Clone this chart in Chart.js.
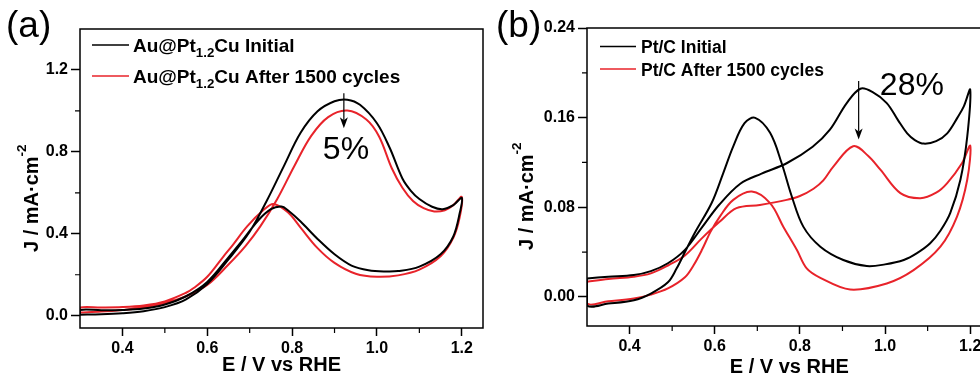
<!DOCTYPE html>
<html>
<head>
<meta charset="utf-8">
<script src="https://cdn.jsdelivr.net/npm/chart.js@4.4.1/dist/chart.umd.min.js"></script>
<style>
    html, body { margin: 0; padding: 0; background: #fff; overflow: hidden; }
    body { width: 980px; height: 377px; position: relative; }
    .panel { position: absolute; top: 0; height: 377px; }
    #panel-a { left: 0; width: 490px; }
    #panel-b { left: 490px; width: 510px; }
</style>
</head>
<body>
<div class="panel" id="panel-a"><canvas id="chart-a"></canvas></div>
<div class="panel" id="panel-b"><canvas id="chart-b"></canvas></div>
<script>
const FONT = "'Liberation Sans', Arial, sans-serif";

// --- Axes ---
const E_TICKS = [0.4, 0.6, 0.8, 1.0, 1.2];
const E_MINOR = [0.5, 0.7, 0.9, 1.1];
const J_TICKS_A = [0.0, 0.4, 0.8, 1.2];
const J_MINOR_A = [0.2, 0.6, 1.0];
const J_TICKS_B = [0.00, 0.08, 0.16, 0.24];
const J_MINOR_B = [0.04, 0.12, 0.20];

// --- (a) Au@Pt1.2Cu, forward scan then backward scan ---
const A_INIT_FWD_E = [0.30, 0.35, 0.40, 0.45, 0.50, 0.55, 0.60, 0.65, 0.70, 0.74, 0.78, 0.82, 0.86, 0.90, 0.93, 0.96, 1.00, 1.03, 1.06, 1.08, 1.10, 1.13, 1.155, 1.18, 1.20];
const A_INIT_FWD_J = [0.005, 0.007, 0.012, 0.022, 0.042, 0.08, 0.155, 0.275, 0.41, 0.56, 0.728, 0.893, 0.998, 1.047, 1.055, 1.03, 0.94, 0.82, 0.67, 0.61, 0.57, 0.532, 0.52, 0.54, 0.575];
const A_INIT_BWD_E = [1.195, 1.18, 1.15, 1.10, 1.05, 1.02, 0.98, 0.94, 0.90, 0.86, 0.82, 0.79, 0.775, 0.75, 0.72, 0.68, 0.65, 0.60, 0.55, 0.50, 0.45, 0.40, 0.35, 0.30];
const A_INIT_BWD_J = [0.50, 0.387, 0.30, 0.24, 0.218, 0.216, 0.222, 0.245, 0.30, 0.375, 0.46, 0.515, 0.533, 0.52, 0.465, 0.36, 0.285, 0.165, 0.095, 0.055, 0.035, 0.028, 0.027, 0.028];

const A_AGED_FWD_E = [0.30, 0.35, 0.40, 0.45, 0.50, 0.55, 0.60, 0.65, 0.69, 0.725, 0.765, 0.805, 0.845, 0.885, 0.93, 0.975, 1.005, 1.035, 1.06, 1.085, 1.11, 1.135, 1.16, 1.18, 1.20];
const A_AGED_FWD_J = [0.016, 0.02, 0.028, 0.04, 0.062, 0.095, 0.15, 0.25, 0.34, 0.436, 0.57, 0.73, 0.878, 0.97, 1.002, 0.958, 0.875, 0.72, 0.625, 0.56, 0.525, 0.509, 0.515, 0.54, 0.58];
const A_AGED_BWD_E = [1.195, 1.18, 1.15, 1.10, 1.05, 1.00, 0.95, 0.90, 0.86, 0.82, 0.79, 0.756, 0.733, 0.694, 0.66, 0.638, 0.60, 0.568, 0.55, 0.50, 0.45, 0.40, 0.35, 0.30];
const A_AGED_BWD_J = [0.48, 0.38, 0.29, 0.225, 0.197, 0.19, 0.205, 0.258, 0.33, 0.43, 0.505, 0.546, 0.517, 0.436, 0.345, 0.289, 0.19, 0.135, 0.112, 0.07, 0.05, 0.042, 0.04, 0.04];

// --- (b) Pt/C ---
const B_INIT_FWD_E = [0.30, 0.35, 0.41, 0.45, 0.49, 0.53, 0.57, 0.61, 0.66, 0.71, 0.77, 0.83, 0.87, 0.91, 0.942, 0.97, 1.004, 1.03, 1.052, 1.07, 1.091, 1.12, 1.146, 1.17, 1.185, 1.20];
const B_INIT_FWD_J = [0.0165, 0.018, 0.0195, 0.023, 0.030, 0.042, 0.062, 0.082, 0.101, 0.11, 0.1195, 0.134, 0.149, 0.173, 0.1858, 0.183, 0.173, 0.158, 0.146, 0.140, 0.1368, 0.139, 0.146, 0.16, 0.170, 0.185];
const B_INIT_BWD_E = [1.193, 1.177, 1.153, 1.13, 1.106, 1.075, 1.044, 1.00, 0.957, 0.902, 0.848, 0.808, 0.781, 0.757, 0.73, 0.695, 0.67, 0.6435, 0.62, 0.593, 0.553, 0.53, 0.51, 0.49, 0.45, 0.41, 0.35, 0.30];
const B_INIT_BWD_J = [0.143, 0.1045, 0.0747, 0.059, 0.0478, 0.039, 0.0329, 0.029, 0.0275, 0.0329, 0.0448, 0.0627, 0.0896, 0.1195, 0.1464, 0.1598, 0.155, 0.1344, 0.1105, 0.084, 0.057, 0.040, 0.025, 0.013, 0.003, -0.003, -0.006, -0.0075];

const B_AGED_FWD_E = [0.30, 0.35, 0.41, 0.45, 0.49, 0.53, 0.569, 0.612, 0.651, 0.706, 0.769, 0.80, 0.832, 0.855, 0.879, 0.925, 0.96, 0.989, 1.036, 1.083, 1.12, 1.146, 1.181, 1.20];
const B_AGED_FWD_J = [0.0134, 0.016, 0.018, 0.021, 0.028, 0.037, 0.052, 0.0672, 0.0792, 0.0821, 0.0866, 0.090, 0.0965, 0.104, 0.1165, 0.1345, 0.126, 0.1135, 0.0926, 0.0881, 0.093, 0.1016, 0.1195, 0.135];
const B_AGED_BWD_E = [1.193, 1.169, 1.13, 1.067, 1.004, 0.918, 0.848, 0.816, 0.793, 0.761, 0.73, 0.687, 0.6435, 0.612, 0.59, 0.57, 0.55, 0.53, 0.49, 0.45, 0.41, 0.35, 0.30];
const B_AGED_BWD_J = [0.1045, 0.0717, 0.0448, 0.0239, 0.012, 0.0066, 0.017, 0.0254, 0.0418, 0.0627, 0.0837, 0.094, 0.0866, 0.0717, 0.058, 0.042, 0.028, 0.0175, 0.0075, 0.002, -0.0015, -0.004, -0.006];

// --- Legend labels (_{..} = subscript) and annotations ---
const LABELS_A = ['Au@Pt_{1.2}Cu Initial', 'Au@Pt_{1.2}Cu After 1500 cycles'];
const LABELS_B = ['Pt/C Initial', 'Pt/C After 1500 cycles'];
const COLORS = ['#000000', '#e8232a'];
const ARROW_A = { x: 0.922, from: 1.086, to: 0.915 };
const NOTE_A = { x: 0.927, y: 0.81, text: '5%' };
const ARROW_B = { x: 0.938, from: 0.1926, to: 0.1404 };
const NOTE_B = { x: 1.063, y: 0.188, text: '28%' };

// Join a forward and backward sweep into one closed CV loop
function cvLoop(fe, fj, be, bj) {
    const pts = fe.map((e, i) => ({ x: e, y: fj[i] }));
    be.forEach((e, i) => pts.push({ x: e, y: bj[i] }));
    pts.push({ x: fe[0], y: fj[0] });
    return pts;
}

// Draw text with _{sub} and ^{sup} parts, returns end x
function drawRich(ctx, str, x, y, size, weight) {
    const parts = str.split(/(_\{[^}]*\}|\^\{[^}]*\})/).filter(Boolean);
    parts.forEach(p => {
        let txt = p, dy = 0, s = size;
        if (p.startsWith('_{')) { txt = p.slice(2, -1); dy = size * 0.28; s = size * 0.7; }
        else if (p.startsWith('^{')) { txt = p.slice(2, -1); dy = -size * 0.6; s = size * 0.68; }
        ctx.font = `${weight} ${s}px ${FONT}`;
        ctx.fillText(txt, x, y + dy);
        x += ctx.measureText(txt).width;
    });
    return x;
}

function decor(cfg) {
    return {
        id: 'cvDecor',
        afterDraw(chart) {
            const { ctx, chartArea: a, scales: { x, y } } = chart;
            ctx.save();
            ctx.strokeStyle = '#000';
            ctx.fillStyle = '#000';

            // frame
            ctx.lineWidth = 1.5;
            ctx.strokeRect(a.left, a.top, a.right - a.left, a.bottom - a.top);

            // minor ticks
            ctx.lineWidth = 1.2;
            ctx.beginPath();
            E_MINOR.forEach(v => {
                const px = x.getPixelForValue(v);
                ctx.moveTo(px, a.bottom); ctx.lineTo(px, a.bottom + 5);
            });
            cfg.jMinor.forEach(v => {
                const py = y.getPixelForValue(v);
                ctx.moveTo(a.left - 5, py); ctx.lineTo(a.left, py);
            });
            ctx.stroke();

            // y title, rotated
            ctx.save();
            ctx.translate(a.left - cfg.yTitleGap, a.bottom - 76);
            ctx.rotate(-Math.PI / 2);
            ctx.textAlign = 'left';
            ctx.textBaseline = 'alphabetic';
            drawRich(ctx, 'J / mA·cm^{-2}', 0, 0, 20, 'bold');
            ctx.restore();

            // legend
            ctx.textAlign = 'left';
            ctx.textBaseline = 'alphabetic';
            chart.data.datasets.forEach((ds, i) => {
                const ly = a.top + cfg.legend.y0 + i * cfg.legend.dy;
                ctx.strokeStyle = ds.borderColor;
                ctx.lineWidth = 1.5;
                ctx.beginPath();
                ctx.moveTo(a.left + cfg.legend.x0, ly);
                ctx.lineTo(a.left + cfg.legend.x1, ly);
                ctx.stroke();
                ctx.fillStyle = '#000';
                drawRich(ctx, ds.label, a.left + cfg.legend.tx, ly + 6.6, cfg.legend.size, 'bold');
            });

            // arrow marking the peak loss
            const ax = x.getPixelForValue(cfg.arrow.x);
            const ay0 = y.getPixelForValue(cfg.arrow.from);
            const ay1 = y.getPixelForValue(cfg.arrow.to);
            ctx.strokeStyle = '#000';
            ctx.lineWidth = 1.2;
            ctx.beginPath();
            ctx.moveTo(ax, ay0); ctx.lineTo(ax, ay1 - 8);
            ctx.stroke();
            ctx.beginPath();
            ctx.moveTo(ax, ay1);
            ctx.lineTo(ax - 4, ay1 - 11);
            ctx.lineTo(ax, ay1 - 8);
            ctx.lineTo(ax + 4, ay1 - 11);
            ctx.closePath();
            ctx.fill();

            ctx.font = `32px ${FONT}`;
            ctx.textAlign = 'center';
            ctx.textBaseline = 'middle';
            ctx.fillText(cfg.note.text, x.getPixelForValue(cfg.note.x), y.getPixelForValue(cfg.note.y));

            // panel tag
            ctx.font = `37px ${FONT}`;
            ctx.textAlign = 'left';
            ctx.textBaseline = 'alphabetic';
            ctx.fillText(cfg.tag, 6, 37);
            ctx.restore();
        }
    };
}

function makeChart(id, cfg) {
    const tickFont = { family: FONT, size: 16, weight: 'bold' };
    return new Chart(document.getElementById(id), {
        type: 'scatter',
        data: {
            datasets: cfg.series.map((s, i) => ({
                label: cfg.labels[i],
                data: s,
                showLine: true,
                borderColor: COLORS[i],
                borderWidth: 2,
                pointRadius: 0,
                tension: 0.35,
                fill: false,
            }))
        },
        options: {
            responsive: true,
            maintainAspectRatio: false,
            animation: false,
            layout: { padding: cfg.padding },
            plugins: { legend: { display: false }, tooltip: { enabled: false } },
            scales: {
                x: {
                    type: 'linear',
                    min: 0.3,
                    max: 1.25,
                    afterBuildTicks: s => { s.ticks = E_TICKS.map(v => ({ value: v })); },
                    afterFit: s => { s.height = cfg.xAxisHeight; },
                    ticks: { callback: v => v.toFixed(1), color: '#000', font: tickFont, padding: 3, maxRotation: 0, autoSkip: false },
                    grid: { drawOnChartArea: false, tickLength: 8, tickColor: '#000', tickWidth: 1.5 },
                    border: { display: false },
                    title: {
                        display: true, text: 'E / V vs RHE', color: '#000',
                        font: { family: FONT, size: 20, weight: 'bold', lineHeight: 1 },
                        padding: { top: 0, bottom: cfg.xTitlePad }
                    }
                },
                y: {
                    type: 'linear',
                    min: cfg.yMin,
                    max: cfg.yMax,
                    afterBuildTicks: s => { s.ticks = cfg.jTicks.map(v => ({ value: v })); },
                    afterFit: s => { s.width = cfg.yAxisWidth; },
                    ticks: { callback: v => v.toFixed(cfg.yDigits), color: '#000', font: tickFont, padding: 3, autoSkip: false },
                    grid: { drawOnChartArea: false, tickLength: 9, tickColor: '#000', tickWidth: 1.5 },
                    border: { display: false }
                }
            }
        },
        plugins: [decor(cfg)]
    });
}

makeChart('chart-a', {
    series: [
        cvLoop(A_INIT_FWD_E, A_INIT_FWD_J, A_INIT_BWD_E, A_INIT_BWD_J),
        cvLoop(A_AGED_FWD_E, A_AGED_FWD_J, A_AGED_BWD_E, A_AGED_BWD_J),
    ],
    labels: LABELS_A,
    padding: { left: 0, top: 29, right: 7, bottom: 0 },
    yAxisWidth: 80,
    xAxisHeight: 49,
    xTitlePad: 2,
    yMin: -0.06, yMax: 1.4, yDigits: 1,
    jTicks: J_TICKS_A, jMinor: J_MINOR_A,
    yTitleGap: 42,
    legend: { x0: 12, x1: 49, tx: 53, y0: 16, dy: 31, size: 19 },
    arrow: ARROW_A, note: NOTE_A,
    tag: '(a)',
});

makeChart('chart-b', {
    series: [
        cvLoop(B_INIT_FWD_E, B_INIT_FWD_J, B_INIT_BWD_E, B_INIT_BWD_J),
        cvLoop(B_AGED_FWD_E, B_AGED_FWD_J, B_AGED_BWD_E, B_AGED_BWD_J),
    ],
    labels: LABELS_B,
    padding: { left: 0, top: 28, right: 8.5, bottom: 0 },
    yAxisWidth: 97,
    xAxisHeight: 51,
    xTitlePad: 0,
    yMin: -0.026, yMax: 0.24, yDigits: 2,
    jTicks: J_TICKS_B, jMinor: J_MINOR_B,
    yTitleGap: 54,
    legend: { x0: 13, x1: 49, tx: 54, y0: 18.5, dy: 22.5, size: 17.5 },
    arrow: ARROW_B, note: NOTE_B,
    tag: '(b)',
});
</script>
</body>
</html>
